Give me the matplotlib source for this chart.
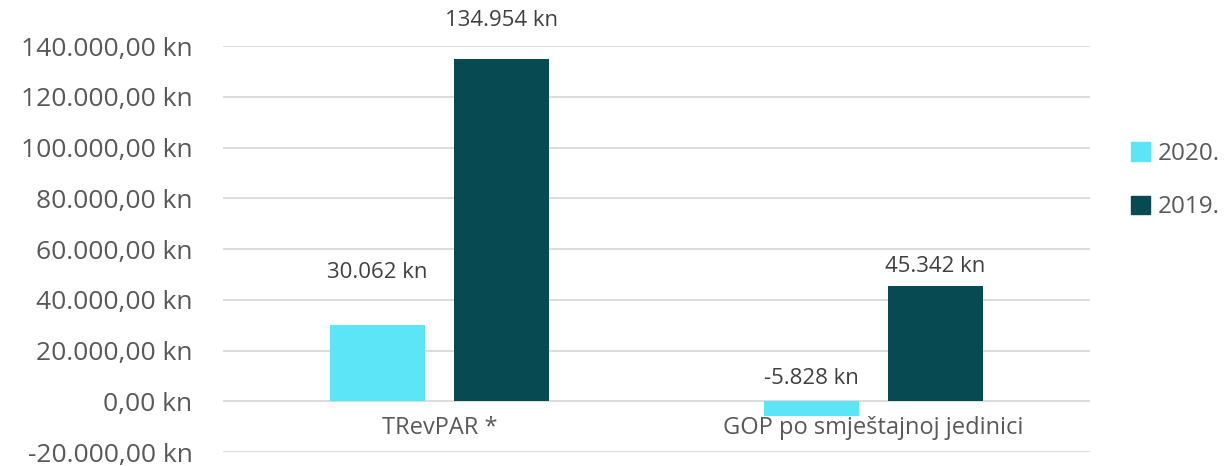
import matplotlib.pyplot as plt
from matplotlib.patches import Patch
from matplotlib.transforms import blended_transform_factory

# data
categories = ["TRevPAR *", "GOP po smještajnoj jedinici"]
series_names = ["2020.", "2019."]
values_2020 = [30062, -5828]
values_2019 = [134954, 45342]
label_texts_2020 = ["30.062 kn", "-5.828 kn"]
label_texts_2019 = ["134.954 kn", "45.342 kn"]
yticks = [-20000, 0, 20000, 40000, 60000, 80000, 100000, 120000, 140000]
ytick_labels = ["-20.000,00 kn", "0,00 kn", "20.000,00 kn", "40.000,00 kn",
                "60.000,00 kn", "80.000,00 kn", "100.000,00 kn",
                "120.000,00 kn", "140.000,00 kn"]

colors = ["#5CE6F5", "#074A52"]
text_color = "#595959"
grid_color = "#D9D9D9"

plt.rcParams["font.family"] = ["Open Sans", "DejaVu Sans"]

fig = plt.figure(figsize=(12.29, 4.66), dpi=100)
ax = fig.add_axes([0.1814, 0.030, 0.7056, 0.871])

x = range(len(categories))
width = 0.22
offset = 0.143
ax.bar([i - offset for i in x], values_2020, width, color=colors[0], zorder=3)
ax.bar([i + offset for i in x], values_2019, width, color=colors[1], zorder=3)

# data labels (vertical offsets in points, positioned like the original)
off20 = [38, 16.5]
off19 = [27.4, 14.4]
for i in x:
    base20 = max(values_2020[i], 0)
    ax.annotate(label_texts_2020[i], (i - offset, base20), xytext=(0, off20[i]),
                textcoords="offset points", ha="center", va="center",
                fontsize=16, color="#404040")
    ax.annotate(label_texts_2019[i], (i + offset, values_2019[i]), xytext=(0, off19[i]),
                textcoords="offset points", ha="center", va="center",
                fontsize=16, color="#404040")

ax.set_xlim(-0.5, 1.5)
ax.set_ylim(-20000, 140000)
ax.set_yticks(yticks)
ax.set_yticklabels(ytick_labels, fontsize=19, color=text_color)
ax.tick_params(axis="y", length=0, pad=22)
ax.set_xticks([])
ax.grid(axis="y", color=grid_color, linewidth=1.3, zorder=0)
for s in ax.spines.values():
    s.set_visible(False)

# category labels just below the zero line
trans = blended_transform_factory(ax.transData, ax.transData)
for i, cat in enumerate(categories):
    ax.text(i, -10600, cat, transform=trans, ha="center", va="center",
            fontsize=17, color=text_color)

handles = [Patch(color=colors[0]), Patch(color=colors[1])]
fig.legend(handles, series_names, loc="center left",
           bbox_to_anchor=(0.912, 0.612), frameon=False, fontsize=17.5,
           handlelength=0.8, handleheight=0.8, handletextpad=0.3,
           labelspacing=1.2, labelcolor=text_color, borderaxespad=0)

fig.savefig("out.png", dpi=100)
